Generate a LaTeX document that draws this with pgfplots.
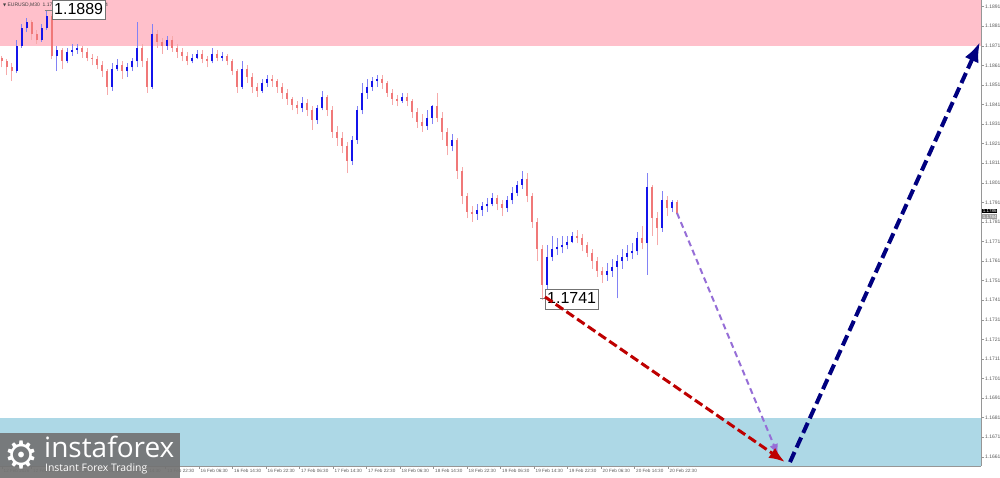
\documentclass[border=0pt]{standalone}
\usepackage{pgfplots}
\pgfplotsset{compat=1.18}
\usepackage{pgfplotstable}
\usepackage{fontspec}
\setmainfont{Liberation Sans}
\newfontfamily\logofont{Open Sans}
\newfontfamily\symfont{DejaVu Sans}
\usetikzlibrary{arrows.meta}
\definecolor{upc}{RGB}{20,20,235}
\definecolor{upw}{RGB}{130,130,245}
\definecolor{dnc}{RGB}{240,120,120}
\definecolor{dnw}{RGB}{246,170,170}
\definecolor{bandpink}{RGB}{255,192,203}
\definecolor{bandblue}{RGB}{173,216,230}
\definecolor{arrred}{RGB}{190,0,0}
\definecolor{arrnavy}{RGB}{0,0,128}
\definecolor{arrpurple}{RGB}{150,110,215}
\definecolor{axgray}{RGB}{150,150,150}
\definecolor{lblgray}{RGB}{90,90,90}
\definecolor{logogray}{RGB}{115,115,115}
\pgfplotstableread{
x o h l c u
2 1.1865 1.1866 1.1860 1.1863 0
7 1.1863 1.1864 1.1856 1.1860 0
12 1.1860 1.1862 1.1853 1.1858 0
17 1.1858 1.1874 1.1857 1.1871 1
22 1.1871 1.1882 1.1870 1.1880 1
27 1.1880 1.1885 1.1878 1.1883 1
32 1.1883 1.1884 1.1874 1.1877 0
37 1.1877 1.1879 1.1872 1.1874 0
42 1.1874 1.1882 1.1873 1.1880 1
47 1.1880 1.1889 1.1879 1.1886 1
52 1.1886 1.1887 1.1864 1.1866 0
57 1.1866 1.1871 1.1858 1.1869 1
62 1.1869 1.1870 1.1859 1.1863 0
67 1.1863 1.1870 1.1862 1.1868 1
72 1.1868 1.1872 1.1866 1.1869 1
77 1.1869 1.1872 1.1867 1.1870 1
82 1.1870 1.1871 1.1865 1.1868 0
87 1.1868 1.1870 1.1863 1.1865 0
92 1.1865 1.1867 1.1861 1.1864 0
97 1.1864 1.1866 1.1859 1.1861 0
102 1.1861 1.1863 1.1855 1.1858 0
107 1.1858 1.1859 1.1846 1.1850 0
112 1.1850 1.1862 1.1848 1.1859 1
117 1.1859 1.1864 1.1858 1.1861 1
122 1.1861 1.1863 1.1854 1.1858 0
127 1.1858 1.1862 1.1855 1.1860 1
132 1.1860 1.1865 1.1858 1.1863 1
137 1.1863 1.1883 1.1860 1.1870 1
142 1.1870 1.1872 1.1860 1.1863 0
147 1.1863 1.1865 1.1847 1.1850 0
152 1.1850 1.1882 1.1849 1.1877 1
157 1.1877 1.1879 1.1870 1.1873 0
162 1.1873 1.1875 1.1867 1.1871 0
167 1.1871 1.1876 1.1869 1.1874 1
172 1.1874 1.1876 1.1868 1.1870 0
177 1.1870 1.1872 1.1865 1.1868 0
182 1.1868 1.1870 1.1863 1.1866 0
187 1.1866 1.1868 1.1861 1.1863 0
192 1.1863 1.1867 1.1862 1.1865 1
197 1.1865 1.1869 1.1864 1.1867 1
202 1.1867 1.1869 1.1862 1.1864 0
207 1.1864 1.1866 1.1860 1.1863 0
212 1.1863 1.1870 1.1862 1.1867 1
217 1.1867 1.1869 1.1863 1.1865 0
222 1.1865 1.1868 1.1863 1.1866 1
227 1.1866 1.1867 1.1861 1.1863 0
232 1.1863 1.1864 1.1856 1.1858 0
237 1.1858 1.1859 1.1847 1.1850 0
242 1.1850 1.1863 1.1849 1.1859 1
247 1.1859 1.1861 1.1852 1.1855 0
252 1.1855 1.1857 1.1847 1.1850 0
257 1.1850 1.1852 1.1845 1.1848 0
262 1.1848 1.1854 1.1847 1.1852 1
267 1.1852 1.1856 1.1850 1.1854 1
272 1.1854 1.1856 1.1850 1.1853 0
277 1.1853 1.1854 1.1847 1.1850 0
282 1.1850 1.1852 1.1844 1.1847 0
287 1.1847 1.1849 1.1841 1.1844 0
292 1.1844 1.1845 1.1838 1.1841 0
297 1.1841 1.1843 1.1836 1.1839 0
302 1.1839 1.1845 1.1837 1.1842 1
307 1.1842 1.1844 1.1835 1.1838 0
312 1.1838 1.1840 1.1828 1.1833 0
317 1.1833 1.1841 1.1831 1.1839 1
322 1.1839 1.1848 1.1838 1.1845 1
327 1.1845 1.1846 1.1835 1.1838 0
332 1.1838 1.1840 1.1824 1.1827 0
337 1.1827 1.1830 1.1820 1.1824 0
342 1.1824 1.1827 1.1816 1.1820 0
347 1.1820 1.1822 1.1806 1.1812 0
352 1.1812 1.1825 1.1810 1.1823 1
357 1.1823 1.1840 1.1821 1.1838 1
362 1.1838 1.1852 1.1836 1.1847 1
367 1.1847 1.1854 1.1844 1.1850 1
372 1.1850 1.1855 1.1848 1.1853 1
377 1.1853 1.1856 1.1850 1.1854 1
382 1.1854 1.1856 1.1849 1.1852 0
387 1.1852 1.1853 1.1845 1.1847 0
392 1.1847 1.1849 1.1841 1.1844 0
397 1.1844 1.1846 1.1840 1.1843 0
402 1.1843 1.1847 1.1842 1.1845 1
407 1.1845 1.1847 1.1840 1.1843 0
412 1.1843 1.1844 1.1834 1.1837 0
417 1.1837 1.1839 1.1829 1.1832 0
422 1.1832 1.1836 1.1827 1.1830 0
427 1.1830 1.1838 1.1828 1.1834 1
432 1.1834 1.1841 1.1831 1.1840 1
437 1.1840 1.1847 1.1832 1.1834 0
442 1.1834 1.1837 1.1823 1.1827 0
447 1.1827 1.1829 1.1815 1.1820 0
452 1.1820 1.1826 1.1817 1.1823 1
457 1.1823 1.1824 1.1803 1.1807 0
462 1.1807 1.1809 1.1790 1.1794 0
467 1.1794 1.1796 1.1783 1.1786 0
472 1.1786 1.1789 1.1781 1.1785 0
477 1.1785 1.1790 1.1782 1.1787 1
482 1.1787 1.1791 1.1784 1.1789 1
487 1.1789 1.1793 1.1786 1.1790 1
492 1.1790 1.1796 1.1789 1.1793 1
497 1.1793 1.1795 1.1787 1.1790 0
502 1.1790 1.1792 1.1784 1.1788 0
507 1.1788 1.1794 1.1786 1.1792 1
512 1.1792 1.1799 1.1790 1.1796 1
517 1.1796 1.1802 1.1794 1.1800 1
522 1.1800 1.1807 1.1798 1.1803 1
527 1.1803 1.1806 1.1791 1.1794 0
532 1.1794 1.1796 1.1778 1.1781 0
537 1.1781 1.1783 1.1761 1.1767 0
542 1.1767 1.1769 1.1741 1.1749 0
547 1.1749 1.1769 1.1746 1.1763 1
552 1.1763 1.1774 1.1761 1.1767 1
557 1.1767 1.1773 1.1764 1.1768 1
562 1.1768 1.1774 1.1765 1.1769 1
567 1.1769 1.1774 1.1767 1.1771 1
572 1.1771 1.1776 1.1770 1.1774 1
577 1.1774 1.1777 1.1770 1.1773 0
582 1.1773 1.1775 1.1766 1.1769 0
587 1.1769 1.1771 1.1763 1.1765 0
592 1.1765 1.1767 1.1757 1.1761 0
597 1.1761 1.1763 1.1753 1.1756 0
602 1.1756 1.1758 1.1750 1.1754 0
607 1.1754 1.1760 1.1751 1.1756 1
612 1.1756 1.1762 1.1753 1.1758 1
617 1.1758 1.1764 1.1742 1.1761 1
622 1.1761 1.1767 1.1757 1.1763 1
627 1.1763 1.1769 1.1761 1.1765 1
632 1.1765 1.1770 1.1762 1.1766 1
637 1.1766 1.1776 1.1764 1.1773 1
642 1.1773 1.1779 1.1767 1.1770 0
647 1.1770 1.1806 1.1754 1.1799 1
652 1.1799 1.1800 1.1774 1.1783 0
657 1.1783 1.1786 1.1769 1.1778 0
662 1.1778 1.1797 1.1776 1.1792 1
667 1.1792 1.1794 1.1784 1.1788 0
672 1.1788 1.1792 1.1786 1.1791 1
677 1.1791 1.1792 1.1784 1.1785 0
}\bars
\begin{document}
\begin{tikzpicture}[x=1pt,y=1pt]
\useasboundingbox (0,-12) rectangle (1000,466);
\fill[white] (0,-12) rectangle (1000,466);
\begin{axis}[at={(0,0)}, anchor=south west, scale only axis,
  width=981pt, height=466pt,
  xmin=0, xmax=981, ymin=1.16563, ymax=1.18944,
  clip=false, axis on top,
  axis x line*=bottom, axis y line*=right,
  axis line style={draw=axgray, line width=0.8pt},
  tick align=outside, major tick length=3pt,
  tick style={draw=axgray, line width=0.5pt},
  ytick={1.1661,1.1671,1.1681,1.1691,1.1701,1.1711,1.1721,1.1731,1.1741,1.1751,1.1761,1.1771,1.1781,1.1791,1.1801,1.1811,1.1821,1.1831,1.1841,1.1851,1.1861,1.1871,1.1881,1.1891},
  yticklabels={1.1661,1.1671,1.1681,1.1691,1.1701,1.1711,1.1721,1.1731,1.1741,1.1751,1.1761,1.1771,1.1781,1.1791,1.1801,1.1811,1.1821,1.1831,1.1841,1.1851,1.1861,1.1871,1.1881,1.1891},
  yticklabel style={font=\fontsize{5}{6}\selectfont, text=lblgray, inner sep=1pt},
  xtick={2,31.5,65,98.5,132,165.5,199,232.5,266,299.5,333,366.5,400,433.5,467,500.5,534,567.5,601,634.5,668},
  xticklabels={12 Feb 2026,12 Feb 14:30,12 Feb 22:30,13 Feb 06:30,13 Feb 14:30,13 Feb 22:30,16 Feb 06:30,16 Feb 14:30,16 Feb 22:30,17 Feb 06:30,17 Feb 14:30,17 Feb 22:30,18 Feb 06:30,18 Feb 14:30,18 Feb 22:30,19 Feb 06:30,19 Feb 14:30,19 Feb 22:30,20 Feb 06:30,20 Feb 14:30,20 Feb 22:30},
  xticklabel style={font=\fontsize{4.6}{6}\selectfont, text=lblgray, anchor=north west, inner sep=1pt, xshift=0.5pt, yshift=1pt},
]
% zones
\fill[bandpink] (axis cs:0,1.1871) rectangle (axis cs:981,1.18944);
\fill[bandblue] (axis cs:0,1.16563) rectangle (axis cs:981,1.1681);
% candles: one wick and one body per row of the table
\pgfplotsforeachungrouped \i in {0,...,135}{%
  \pgfplotstablegetelem{\i}{x}\of\bars \let\X\pgfplotsretval
  \pgfplotstablegetelem{\i}{o}\of\bars \let\O\pgfplotsretval
  \pgfplotstablegetelem{\i}{h}\of\bars \let\H\pgfplotsretval
  \pgfplotstablegetelem{\i}{l}\of\bars \let\L\pgfplotsretval
  \pgfplotstablegetelem{\i}{c}\of\bars \let\C\pgfplotsretval
  \pgfplotstablegetelem{\i}{u}\of\bars \let\U\pgfplotsretval
  \ifnum\U=1 \def\wc{upw}\def\bc{upc}\else\def\wc{dnw}\def\bc{dnc}\fi
  \edef\temp{\noexpand\addplot[\wc, line width=1pt, forget plot] coordinates {(\X,\L) (\X,\H)};
    \noexpand\addplot[\bc, line width=2.9pt, forget plot] coordinates {(\X,\O) (\X,\C)};}%
  \temp
}
% header
\node[anchor=west, inner sep=0pt, font=\fontsize{5}{6}\selectfont, text=black!75] at (axis cs:3,1.18918)
  {{\symfont\fontsize{4}{5}\selectfont ▼}\ EURUSD,M30\ \ 1.1785 1.1790 1.1782 1.1784};
% extreme labels
\draw[gray, line width=0.6pt] (axis cs:45,1.1889) -- (axis cs:52,1.1889);
\node[draw=gray!90!black, fill=white, anchor=north west, inner sep=2pt, text height=12.5pt, text depth=3pt,
  font=\fontsize{16}{16}\selectfont] at (axis cs:52,1.18944) {1.1889};
\draw[gray, line width=0.6pt] (axis cs:540,1.1742) -- (axis cs:546,1.1742);
\node[draw=gray!90!black, fill=white, anchor=north west, inner sep=2pt, text height=12.5pt, text depth=3pt,
  font=\fontsize{16}{16}\selectfont] at (axis cs:545,1.17467) {1.1741};
% arrows
\addplot[arrpurple, line width=2pt, dash pattern=on 6pt off 4pt, -{Latex[length=11pt,width=9pt]}]
  coordinates {(677,1.17856) (778,1.16619)};
\addplot[arrred, line width=3pt, dash pattern=on 9pt off 4pt, -{Latex[length=16pt,width=12pt]}]
  coordinates {(545,1.17427) (785,1.16583)};
\addplot[arrnavy, line width=4pt, dash pattern=on 11pt off 5pt, -{Latex[length=20pt,width=15pt]}]
  coordinates {(790,1.16583) (980,1.18730)};
% current price tags
\node[anchor=west, fill=black, text=white, inner sep=0.6pt, font=\fontsize{4.5}{5}\selectfont] at (axis cs:982,1.17866) {1.1786};
\node[anchor=west, fill=gray!75, text=white, inner sep=0.6pt, font=\fontsize{4.5}{5}\selectfont] at (axis cs:982,1.17838) {1.1784};
\end{axis}
% logo
\fill[logogray, opacity=0.92] (0,-12) rectangle (180,33);
\node[text=white, inner sep=0pt, font=\symfont\fontsize{38}{38}\selectfont] at (22,11) {⚙};
\node[anchor=base west, text=white, inner sep=0pt, font=\logofont\fontsize{28}{28}\selectfont] at (44,8) {instaforex};
\node[anchor=base west, text=white, inner sep=0pt, font=\logofont\fontsize{10.4}{11}\selectfont] at (45,-6) {Instant Forex Trading};
\end{tikzpicture}
\end{document}
